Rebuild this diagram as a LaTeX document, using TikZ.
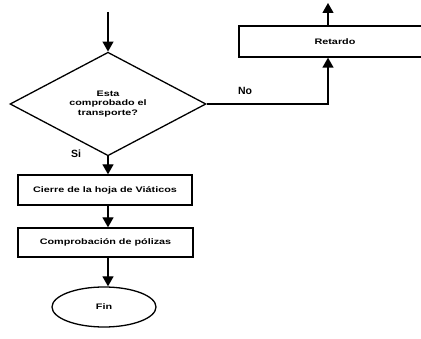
\documentclass[tikz,border=0pt]{standalone}
\usepackage{fontspec}
\setmainfont{Liberation Sans}
\newfontfamily\widefont[FakeStretch=1.35]{Liberation Sans}
\usetikzlibrary{shapes.geometric,arrows.meta}
\begin{document}
\begin{tikzpicture}[x=1pt,y=-1pt,
  line width=1.3pt,
  flow/.style={-{Triangle[width=11pt,length=10pt]}},
  boxtxt/.style={font=\widefont\bfseries\fontsize{8}{9.5}\selectfont, align=center},
  procbox/.style={draw, rectangle, inner sep=0pt, boxtxt},
  lbl/.style={font=\bfseries\fontsize{10.5}{12}\selectfont, inner sep=0pt}]
\useasboundingbox (0,0) rectangle (421,339);
% decision
\node[draw, diamond, inner sep=0pt, minimum width=196pt, minimum height=92pt, boxtxt] (dec) at (108,104) {Esta\\comprobado el\\transporte?};
\coordinate (start) at (108,12);
\draw[flow] (start) -- (dec.north);
% retardo
\node[procbox, minimum width=192pt, minimum height=31pt] (ret) at (335,41.5) {Retardo};
\coordinate (rin) at (328,104);
\coordinate (rout) at (328,3);
\draw[flow] (dec.east) -- (rin) -- (rin |- ret.south);
\draw[flow] (rout |- ret.north) -- (rout);
\node[lbl] (no) at (245,91) {No};
% process
\node[procbox, minimum width=174pt, minimum height=30pt] (p1) at (105,190) {Cierre de la hoja de Viáticos};
\node[procbox, minimum width=175pt, minimum height=29pt] (p2) at (105.5,242.5) {Comprobación de pólizas};
\node[draw, ellipse, inner sep=0pt, minimum width=104pt, minimum height=40pt, boxtxt] (fin) at (104,307) {Fin};
\node[lbl] (si) at (76,154) {Si};
\draw[flow] (dec.south) -- (dec.south |- p1.north);
\draw[flow] (dec.south |- p1.south) -- (dec.south |- p2.north);
\draw[flow] (dec.south |- p2.south) -- (dec.south |- fin.north);
\end{tikzpicture}
\end{document}
